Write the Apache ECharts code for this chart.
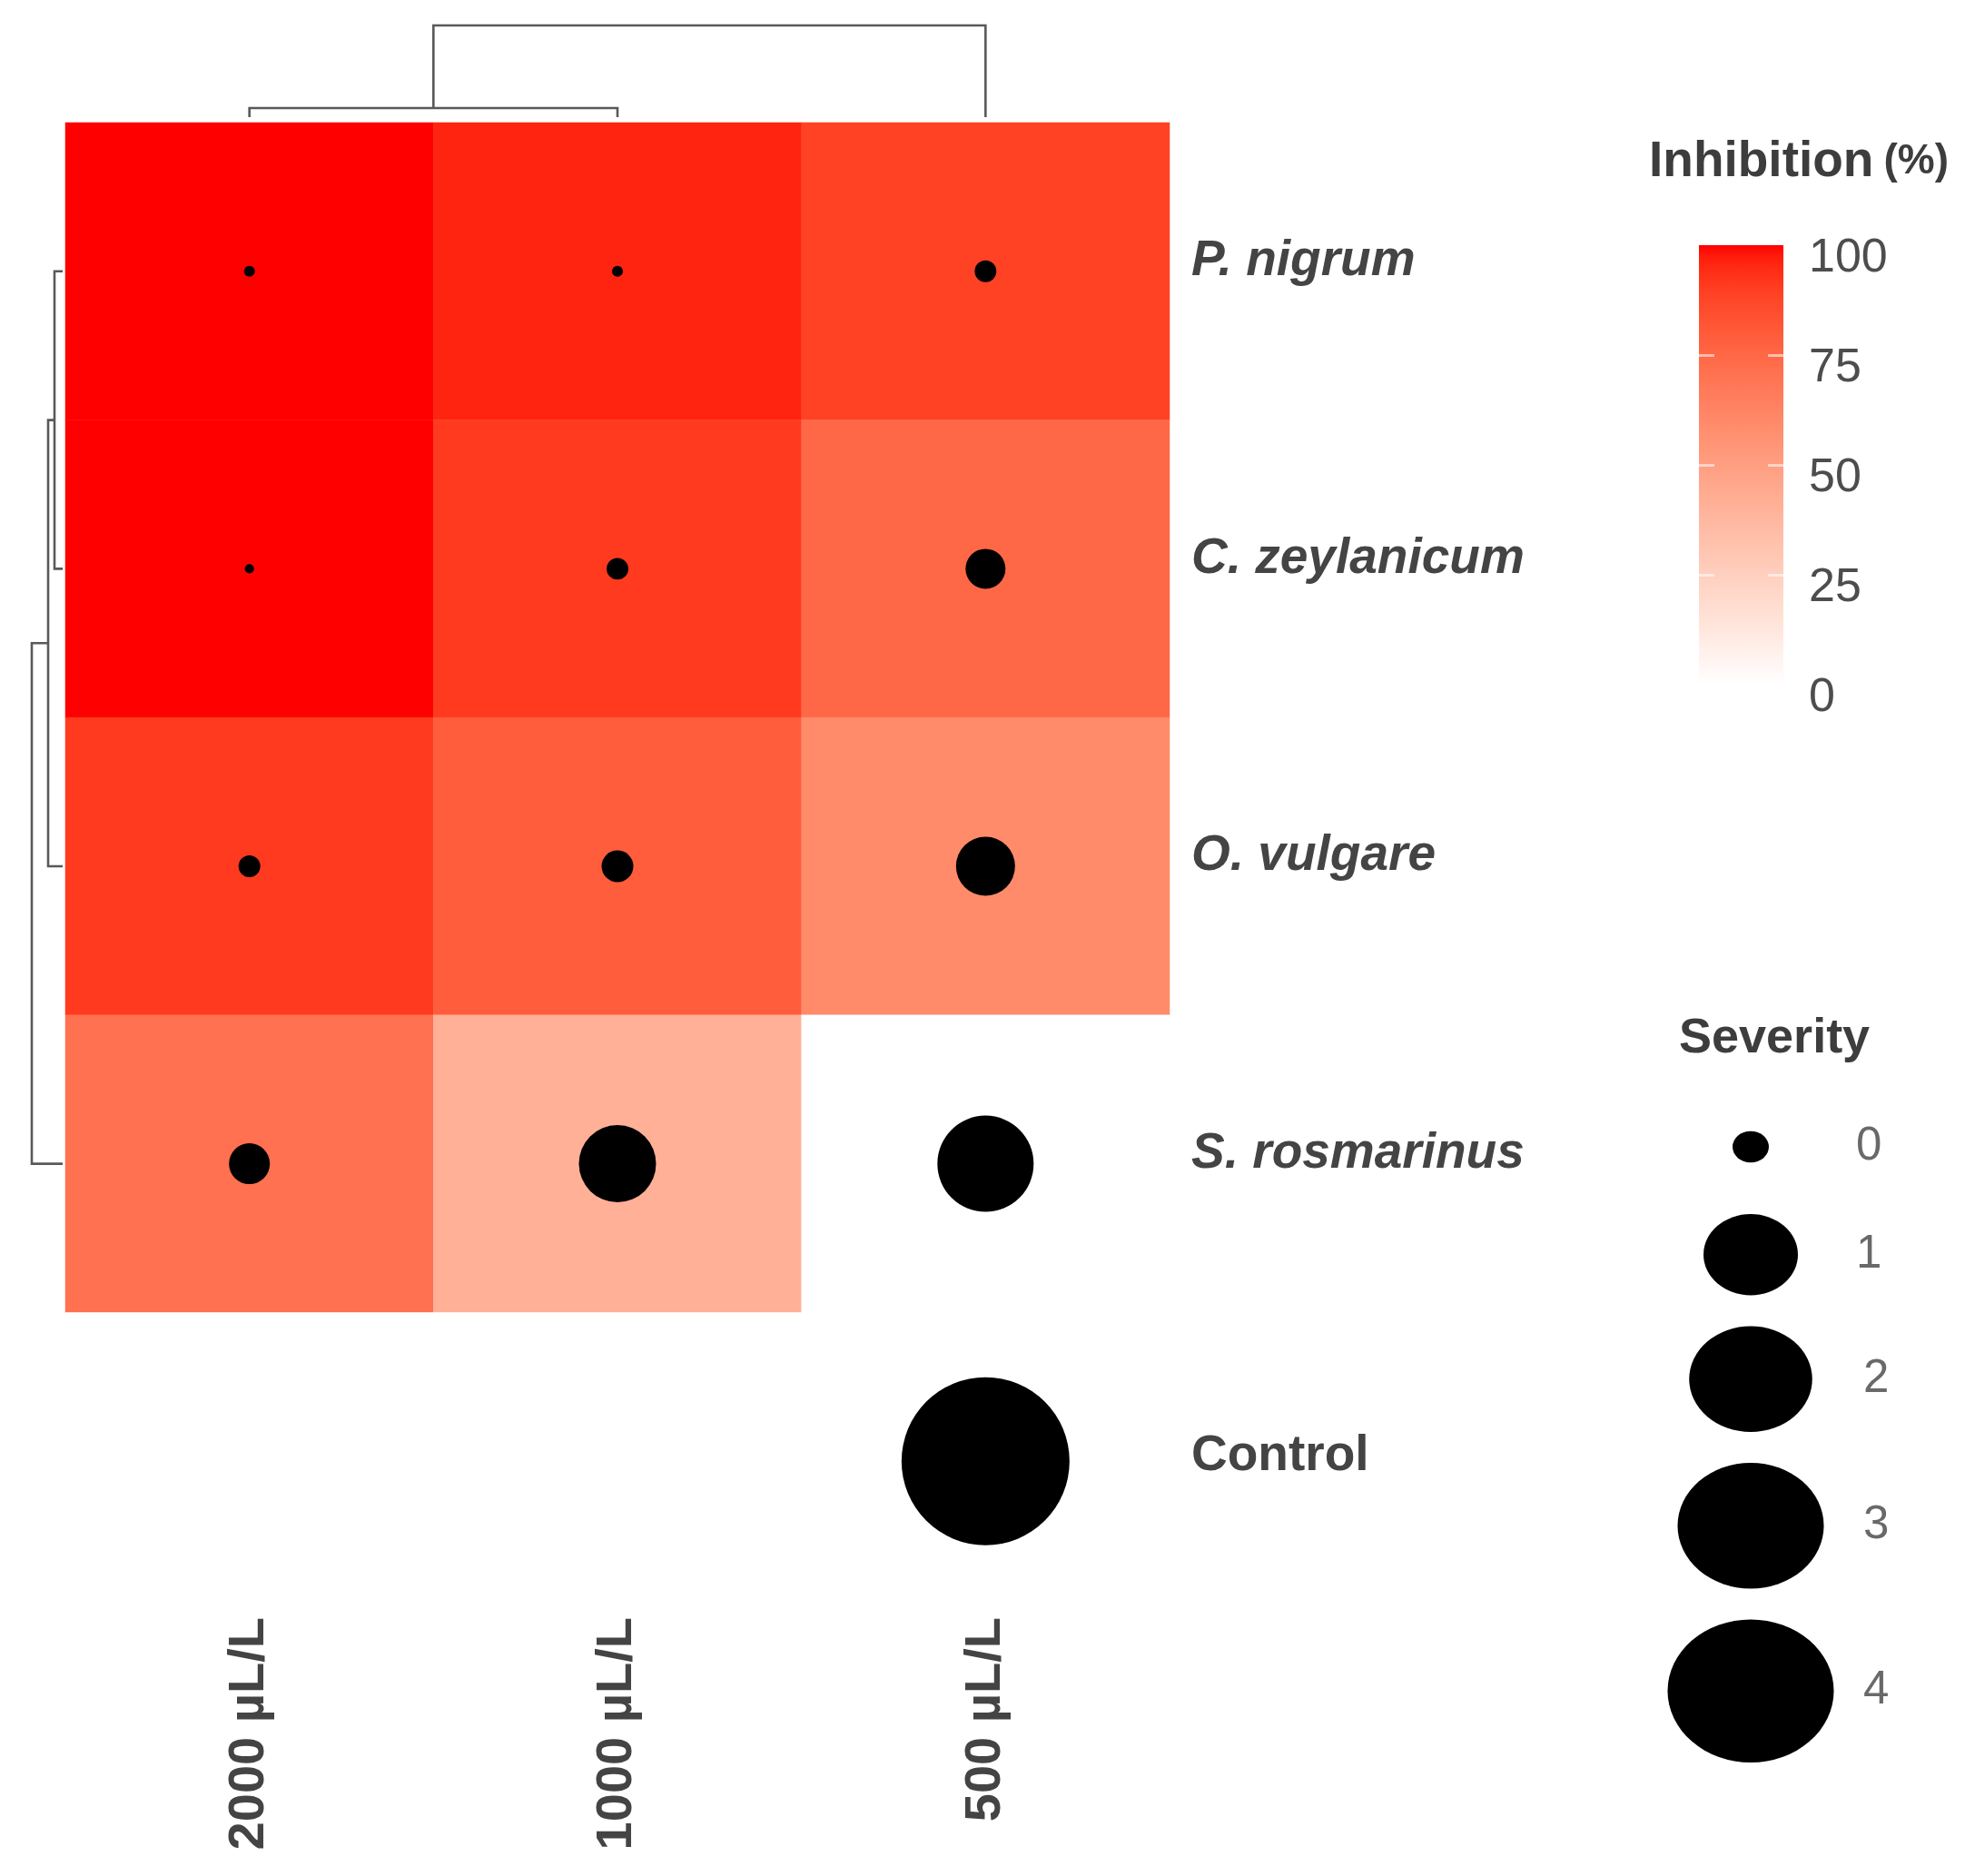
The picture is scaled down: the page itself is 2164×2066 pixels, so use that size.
<!DOCTYPE html>
<html>
<head>
<meta charset="utf-8">
<script src="https://cdn.jsdelivr.net/npm/echarts@6/dist/echarts.min.js"></script>
<style>
html,body{margin:0;padding:0;background:#fff;}
#chart{width:2164px;height:2066px;}
</style>
</head>
<body>
<div id="chart"></div>
<script>
// ---------------- DATA ----------------
const concentrations = ['2000 µL/L', '1000 µL/L', '500 µL/L'];
const species = ['P. nigrum', 'C. zeylanicum', 'O. vulgare', 'S. rosmarinus', 'Control'];

// Inhibition (%) per species, by concentration (2000, 1000, 500)
const inhibitionPNigrum     = [100, 96, 89];
const inhibitionCZeylanicum = [100, 91, 75];
const inhibitionOVulgare    = [91, 79, 59];
const inhibitionSRosmarinus = [71, 41, 0];
const inhibitionControl     = [0, 0, 0];

// Severity per species, by concentration (2000, 1000, 500)
const severityPNigrum     = [0.017, 0.017, 0.067];
const severityCZeylanicum = [0.012, 0.067, 0.226];
const severityOVulgare    = [0.067, 0.143, 0.494];
const severitySRosmarinus = [0.237, 0.844, 1.313];
const severityControl     = [null, null, 4];

// Dendrogram merges: [positionA, positionB, mergeHeight, heightA, heightB]
const columnDendrogram = [[0, 1, 10, 0, 0], [0.5, 2, 101, 10, 0]];
const rowDendrogram = [[0, 1, 9, 0, 0], [0.5, 2, 16, 9, 0], [1.25, 3, 34, 16, 0]];

// Legend scales
const inhibitionTicks = [0, 25, 50, 75, 100];
const severityLegend = [0, 1, 2, 3, 4];

// ---------------- COLOUR SCALE (white -> red, CIELAB interpolation) ----------------
function labToHex(L, a, b) {
  const fy = (L + 16) / 116, fx = fy + a / 500, fz = fy - b / 200;
  const f = t => t > 6 / 29 ? t * t * t : 3 * (6 / 29) * (6 / 29) * (t - 4 / 29);
  const X = 0.95047 * f(fx), Y = f(fy), Z = 1.08883 * f(fz);
  const lin = [
    3.2406 * X - 1.5372 * Y - 0.4986 * Z,
    -0.9689 * X + 1.8758 * Y + 0.0415 * Z,
    0.0557 * X - 0.2040 * Y + 1.0570 * Z
  ];
  return '#' + lin.map(c => {
    c = Math.min(1, Math.max(0, c));
    const s = c <= 0.0031308 ? 12.92 * c : 1.055 * Math.pow(c, 1 / 2.4) - 0.055;
    return Math.round(s * 255).toString(16).padStart(2, '0');
  }).join('');
}
const LOW = [100, 0, 0], HIGH = [53.2408, 80.0925, 67.2032];
function scaleColor(t) {
  return labToHex(LOW[0] + (HIGH[0] - LOW[0]) * t, LOW[1] + (HIGH[1] - LOW[1]) * t, LOW[2] + (HIGH[2] - LOW[2]) * t);
}
const N_STOPS = 40;
const colorStops = [];
for (let i = 0; i <= N_STOPS; i++) colorStops.push(scaleColor(i / N_STOPS));

// ---------------- BUILD ----------------
const inhibitionRows = [inhibitionPNigrum, inhibitionCZeylanicum, inhibitionOVulgare, inhibitionSRosmarinus, inhibitionControl];
const severityRows = [severityPNigrum, severityCZeylanicum, severityOVulgare, severitySRosmarinus, severityControl];

const heatData = [];
const dotData = [];
inhibitionRows.forEach((row, r) => row.forEach((v, c) => { if (v !== null) heatData.push([c, r, v]); }));
severityRows.forEach((row, r) => row.forEach((v, c) => { if (v !== null) dotData.push([c, r, v]); }));

const SIZE_K = 92.5;
const dotSize = v => SIZE_K * Math.sqrt(v);
// legend key glyph (as drawn in the reference legend)
const legendKeyWidth = v => v === 0 ? 40 : Math.sqrt(3256 + 7560 * v);

// Severity legend keys stacked vertically
const legendW = severityLegend.map(legendKeyWidth);
const legendH = legendW.map(w => w * 0.86);
const keyH = legendH.map(h => Math.max(h, 80));
const legendY = [];
severityLegend.forEach((v, i) => {
  legendY.push(i === 0 ? 163 : legendY[i - 1] + keyH[i - 1] / 2 + 34 + keyH[i] / 2);
});
const legendDots = severityLegend.map((v, i) => ({ value: [148, legendY[i], v], symbolSize: [legendW[i], legendH[i]] }));
const legendLabels = severityLegend.map((v, i) => ({ value: [i < 2 ? 264 : 272, legendY[i], v] }));

const FONT = "'Liberation Sans', Arial, Helvetica, sans-serif";
const LINE = '#595959';

function dendroRender(horizontal) {
  return function (params, api) {
    const a = api.value(0), b = api.value(1), h = api.value(2), ha = api.value(3), hb = api.value(4);
    const pt = (pos, ht) => horizontal ? api.coord([ht, pos]) : api.coord([pos, ht]);
    return {
      type: 'polyline',
      shape: { points: [pt(a, ha), pt(a, h), pt(b, h), pt(b, hb)] },
      style: { stroke: LINE, lineWidth: 2.6, fill: null }
    };
  };
}

const chart = echarts.init(document.getElementById('chart'), null, { renderer: 'canvas' });

const option = {
  backgroundColor: '#ffffff',
  animation: false,
  textStyle: { fontFamily: FONT },
  title: [
    {
      text: '{a|Inhibition} {b|(%)}',
      left: 1816, top: 151, padding: 0,
      textStyle: {
        rich: {
          a: { fontSize: 55, fontWeight: 'bold', color: '#3d3d3d', fontFamily: FONT },
          b: { fontSize: 46, fontWeight: 'bold', color: '#3d3d3d', fontFamily: FONT, padding: [0, 0, 0, 6] }
        }
      }
    },
    {
      text: 'Severity',
      left: 1849, top: 1117, padding: 0,
      textStyle: { fontSize: 54, fontWeight: 'bold', color: '#3d3d3d', fontFamily: FONT }
    }
  ],
  grid: [
    { left: 72, top: 135, width: 1216, height: 1638 },
    { left: 72, top: 28, width: 1216, height: 101 },
    { left: 30, top: 135, width: 39, height: 1638 },
    { left: 1871, top: 270, width: 93, height: 484 },
    { left: 1780, top: 1100, width: 384, height: 900 }
  ],
  xAxis: [
    {
      type: 'category', gridIndex: 0, data: concentrations, position: 'bottom',
      axisLine: { show: false }, axisTick: { show: false }, splitLine: { show: false },
      axisLabel: { rotate: 90, margin: 8, fontSize: 56, fontWeight: 'bold', color: '#444444', fontFamily: FONT }
    },
    { type: 'value', gridIndex: 1, min: -0.5, max: 2.5, show: false },
    { type: 'value', gridIndex: 2, min: 0, max: 39, inverse: true, show: false },
    { type: 'category', gridIndex: 3, data: ['bar'], show: false },
    { type: 'value', gridIndex: 4, min: 0, max: 384, show: false }
  ],
  yAxis: [
    {
      type: 'category', gridIndex: 0, data: species, inverse: true, position: 'right',
      axisLine: { show: false }, axisTick: { show: false }, splitLine: { show: false },
      axisLabel: {
        margin: 24,
        formatter: v => v === 'Control' ? '{n|' + v + '}' : '{i|' + v + '}',
        rich: {
          i: { fontSize: 55, fontWeight: 'bold', fontStyle: 'italic', color: '#444444', fontFamily: FONT, padding: [0, 0, 22, 0] },
          n: { fontSize: 55, fontWeight: 'bold', color: '#444444', fontFamily: FONT, padding: [0, 0, 10, 0] }
        }
      }
    },
    { type: 'value', gridIndex: 1, min: 0, max: 101, show: false },
    { type: 'value', gridIndex: 2, min: -0.5, max: 4.5, inverse: true, show: false },
    {
      type: 'value', gridIndex: 3, min: 0, max: 100, interval: 25, position: 'right', z: 10,
      axisLine: { show: false }, splitLine: { show: false },
      axisTick: { show: true, inside: true, length: 17, customValues: [25, 50, 75], lineStyle: { color: '#ffffff', width: 3, opacity: 0.55 } },
      axisLabel: {
        margin: 28, customValues: inhibitionTicks,
        formatter: v => '{t|' + v + '}',
        rich: { t: { fontSize: 52, color: '#4d4d4d', fontFamily: FONT, padding: [30, 0, 0, 0] } }
      }
    },
    {
      type: 'value', gridIndex: 3, min: 0, max: 100, interval: 25, position: 'left', z: 10,
      axisLine: { show: false }, splitLine: { show: false }, axisLabel: { show: false },
      axisTick: { show: true, inside: true, length: 17, customValues: [25, 50, 75], lineStyle: { color: '#ffffff', width: 3, opacity: 0.55 } }
    },
    { type: 'value', gridIndex: 4, min: 0, max: 900, inverse: true, show: false }
  ],
  visualMap: [{
    type: 'continuous', min: 0, max: 100, seriesIndex: 0, show: false,
    inRange: { color: colorStops }
  }],
  series: [
    {
      type: 'heatmap', xAxisIndex: 0, yAxisIndex: 0, data: heatData,
      itemStyle: { borderWidth: 0 }, emphasis: { disabled: true }, silent: true
    },
    {
      type: 'scatter', xAxisIndex: 0, yAxisIndex: 0, data: dotData, z: 5,
      symbol: 'circle', symbolSize: v => dotSize(v[2]),
      itemStyle: { color: '#000000', opacity: 1 }, silent: true
    },
    {
      type: 'custom', xAxisIndex: 1, yAxisIndex: 1, data: columnDendrogram,
      renderItem: dendroRender(false), silent: true
    },
    {
      type: 'custom', xAxisIndex: 2, yAxisIndex: 2, data: rowDendrogram,
      renderItem: dendroRender(true), silent: true
    },
    {
      type: 'bar', xAxisIndex: 3, yAxisIndex: 3, data: [100], barWidth: '100%', silent: true,
      itemStyle: {
        color: new echarts.graphic.LinearGradient(0, 0, 0, 1,
          colorStops.map((c, i) => ({ offset: i / N_STOPS, color: colorStops[N_STOPS - i] })))
      }
    },
    {
      type: 'scatter', xAxisIndex: 4, yAxisIndex: 5, data: legendDots, symbol: 'circle',
      itemStyle: { color: '#000000', opacity: 1 }, silent: true
    },
    {
      type: 'scatter', xAxisIndex: 4, yAxisIndex: 5, data: legendLabels, symbolSize: 0, silent: true,
      label: {
        show: true, position: 'right', distance: 0,
        formatter: p => String(p.value[2]),
        fontSize: 51, color: '#444444', fontFamily: FONT
      }
    }
  ]
};
chart.setOption(option);
</script>
</body>
</html>
